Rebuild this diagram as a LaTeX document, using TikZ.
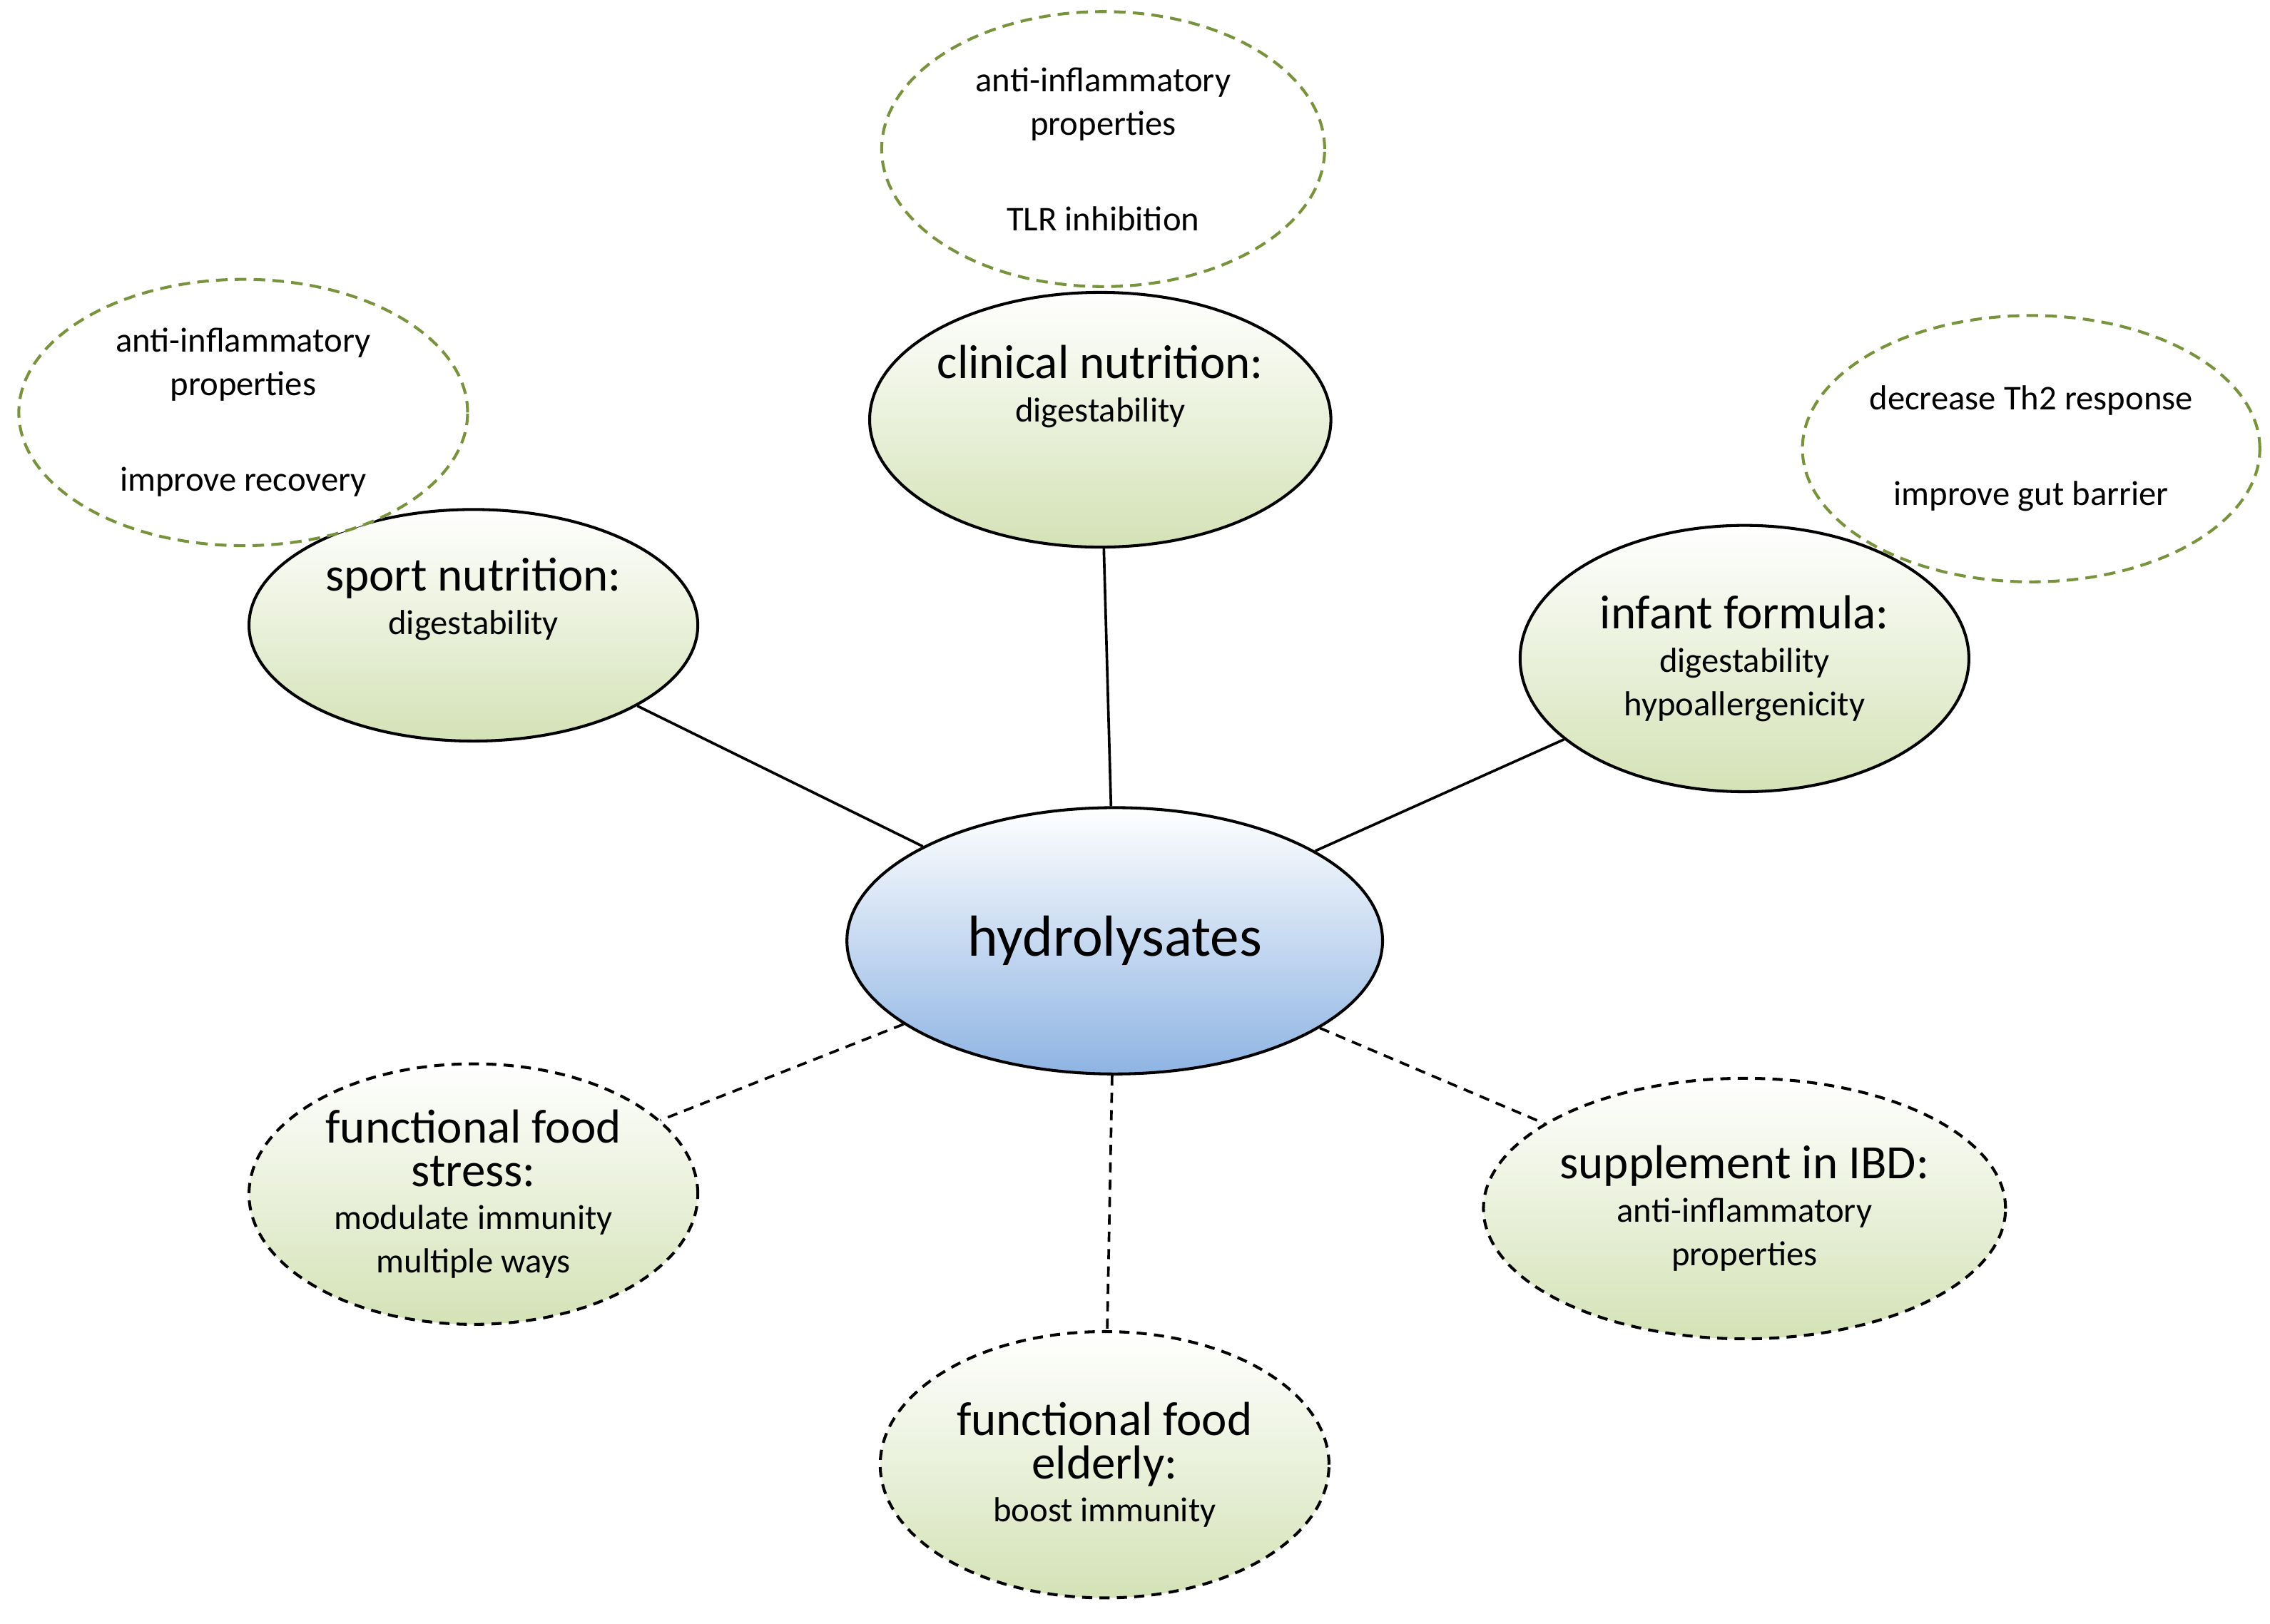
\documentclass[tikz,border=0pt]{standalone}
\usepackage{fontspec}
\setmainfont{Carlito}
\usetikzlibrary{shapes.geometric}
\definecolor{gfill}{HTML}{D4E2B6}
\definecolor{gline}{HTML}{77933C}
\definecolor{bfill}{HTML}{8EB4E3}
\tikzset{
 x=1pt,y=-1pt,
 ell/.style={ellipse,inner sep=0pt,align=center,line width=2pt,top color=white,bottom color=gfill,draw=black},
 tip/.style={ellipse,inner sep=0pt,align=center,line width=2pt,draw=gline,dash pattern=on 8pt off 5pt,fill=white},
 hd/.style={font=\fontsize{32}{36}\selectfont},
 sm/.style={font=\fontsize{24}{30}\selectfont},
 dsh/.style={dash pattern=on 7pt off 5pt},
 con/.style={line width=1.8pt}
}
\newcommand{\hdt}[1]{{\fontsize{33}{38}\selectfont #1}}
\begin{document}
\begin{tikzpicture}
\useasboundingbox (0,0) rectangle (1568,1122);
\node[ell,minimum width=370,minimum height=184,bottom color=bfill,font=\fontsize{40}{44}\selectfont] (h) at (770,650) {hydrolysates};
\node[ell,minimum width=310,minimum height=176,sm] (c) at (760,290) {\hdt{clinical nutrition:}\\digestability\\[20pt]};
\node[ell,minimum width=310,minimum height=160,sm] (s) at (327,432) {\hdt{sport nutrition:}\\digestability\\[10pt]};
\node[ell,minimum width=310,minimum height=184,sm] (i) at (1205,455) {\hdt{infant formula:}\\digestability\\hypoallergenicity};
\node[ell,dsh,minimum width=310,minimum height=180,sm] (f) at (327,825) {\hdt{functional food}\\\hdt{stress:}\\modulate immunity\\multiple ways};
\node[ell,dsh,minimum width=310,minimum height=184,sm] (e) at (763,1012) {\hdt{functional food}\\\hdt{elderly:}\\boost immunity};
\node[ell,dsh,minimum width=310,minimum height=180,sm] (b) at (1205,835) {\hdt{supplement in IBD:}\\anti-inflammatory\\properties};
\node[tip,minimum width=306,minimum height=190,sm] (t1) at (762,103) {anti-inflammatory\\properties\\[36pt]TLR inhibition};
\node[tip,minimum width=310,minimum height=184,sm] (t2) at (168,285) {anti-inflammatory\\properties\\[36pt]improve recovery};
\node[tip,minimum width=310,minimum height=184,sm] (t3) at (1403,310) {decrease Th2 response\\[36pt]improve gut barrier};
\draw[con] (h) -- (c);
\draw[con] (h) -- (s);
\draw[con] (h) -- (i);
\draw[con,dsh] (h) -- (f);
\draw[con,dsh] (h) -- (e);
\draw[con,dsh] (h) -- (b);
\end{tikzpicture}
\end{document}
